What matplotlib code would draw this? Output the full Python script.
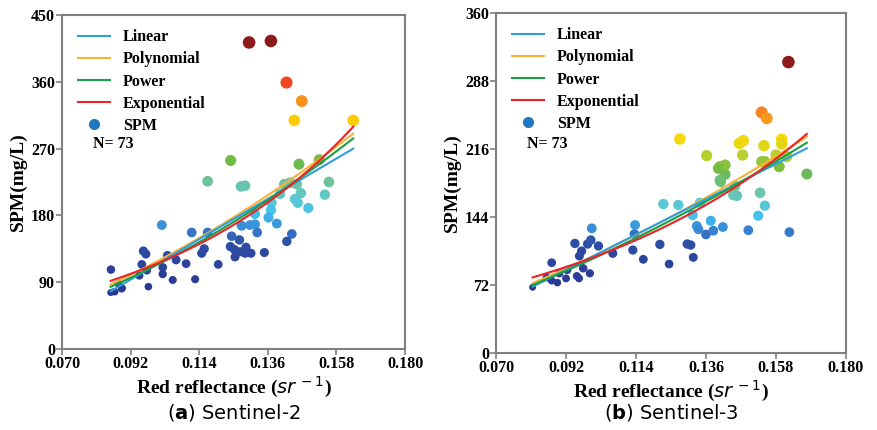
import numpy as np
import matplotlib
matplotlib.use('Agg')
import matplotlib.pyplot as plt
from matplotlib.colors import LinearSegmentedColormap
from matplotlib.lines import Line2D

# Sentinel-2 samples (red reflectance, SPM mg/L)
s2_x = [0.0857, 0.0856, 0.0865, 0.0881, 0.0891, 0.0977, 0.0948, 0.0956, 0.0961, 0.0969,
        0.0972, 0.1023, 0.1023, 0.1020, 0.1038, 0.1066, 0.1055, 0.1098, 0.1116, 0.1127,
        0.1148, 0.1156, 0.1167, 0.1201, 0.1244, 0.1269, 0.1253, 0.1255, 0.1271, 0.1290,
        0.1287, 0.1306, 0.1276, 0.1303, 0.1319, 0.1319, 0.1167, 0.1274, 0.1287, 0.1241,
        0.1460, 0.1525, 0.1413, 0.1431, 0.1453, 0.1556, 0.1543, 0.1466, 0.1447, 0.1456,
        0.1490, 0.1399, 0.1372, 0.1370, 0.1362, 0.1389, 0.1326, 0.1437, 0.1421, 0.1349,
        0.1300, 0.1370, 0.1420, 0.1469, 0.1445, 0.1634, 0.0870, 0.0893, 0.1240]
s2_y = [107, 76, 77, 88, 81, 84, 99, 114, 132, 128,
        106, 110, 101, 167, 126, 120, 93, 115, 157, 94,
        129, 135, 157, 114, 152, 147, 134, 124, 131, 137,
        129, 129, 166, 167, 168, 182, 226, 219, 220, 254,
        249, 255, 222, 224, 222, 225, 208, 210, 202, 197,
        190, 209, 197, 187, 177, 169, 157, 155, 145, 130,
        413, 415, 359, 334, 308, 308, 77, 82, 138]

# Sentinel-3 samples
s3_x = [0.0815, 0.0859, 0.0875, 0.0875, 0.0893, 0.0899, 0.0920, 0.0924, 0.0948, 0.0954,
        0.0961, 0.0962, 0.0969, 0.0974, 0.0995, 0.0988, 0.0998, 0.1001, 0.1022, 0.1067,
        0.1130, 0.1135, 0.1137, 0.1163, 0.1215, 0.1244, 0.1226, 0.1273, 0.1301, 0.1312,
        0.1320, 0.1318, 0.1375, 0.1331, 0.1336, 0.1360, 0.1383, 0.1413, 0.1493, 0.1622,
        0.1524, 0.1545, 0.1530, 0.1446, 0.1457, 0.1451, 0.1406, 0.1420, 0.1404, 0.1420,
        0.1399, 0.1362, 0.1475, 0.1535, 0.1545, 0.1580, 0.1590, 0.1614, 0.1677, 0.1278,
        0.1465, 0.1477, 0.1542, 0.1598, 0.1598, 0.1535, 0.1551, 0.1619, 0.1341, 0.1404]
s3_y = [69.5, 80, 95.6, 76.6, 74.5, 84.4, 79, 88, 116, 81.5,
        79, 102.7, 108, 89.7, 84.4, 115.4, 119.6, 132, 113.3, 105.5,
        109, 126, 135.5, 99.2, 115, 94.2, 157.8, 156.7, 115.4, 114.3,
        101.3, 146, 140, 134.5, 131, 125.5, 129.5, 133.4, 130, 128,
        145.4, 156, 169.7, 167.3, 166.5, 177, 181.4, 189.2, 197.3, 199,
        195.5, 209, 209.6, 202.6, 202.6, 209.6, 197.3, 208, 189.5, 226.6,
        222, 224.8, 219.5, 226.3, 221.3, 254.8, 248.5, 308, 159, 183]

# fitted models
s2_linear = [2471, -133.8]          # a*x + b
s2_poly = [8303, 545.6, -20.6]      # a*x^2 + b*x + c
s2_power = [8660, 1.887]            # c*x^d
s2_expo = [25.03, 15.19]            # c*exp(k*x)

s3_linear = [1699.5, -68.3]
s3_poly = [4307, 724.7, -13.7]
s3_power = [3642, 1.565]
s3_expo = [29.24, 12.35]

cmap = LinearSegmentedColormap.from_list('spm', [
    (0.0, '#2a3791'), (0.2, '#2e4ea6'), (0.26, '#3a8ad6'), (0.31, '#3fbfee'),
    (0.37, '#5cc8d4'), (0.43, '#6cc4a8'), (0.52, '#6cb944'), (0.60, '#c8d42a'),
    (0.67, '#ffd700'), (0.76, '#f7941d'), (0.84, '#ef4123'), (1.0, '#8b1a1a')])

serif = 'Liberation Serif'
gray = '#808080'


def draw_panel(ax, xs, ys, lin, poly, pw, ex, ymax, ystep, caption_tag, caption):
    xs = np.array(xs)
    ys = np.array(ys)
    frac = (ys - ys.min()) / (ys.max() - ys.min())
    sizes = 24 + 58 * frac ** 0.6
    ax.scatter(xs, ys, c=ys, cmap=cmap, s=sizes, edgecolors='none', zorder=2)

    xx = np.linspace(xs.min(), xs.max(), 200)
    ax.plot(xx, np.polyval(poly, xx), color='#f9b233', lw=1.5, zorder=3)
    ax.plot(xx, np.polyval(lin, xx), color='#2d9fe0', lw=1.5, zorder=3)
    ax.plot(xx, pw[0] * xx ** pw[1], color='#1a9e46', lw=1.5, zorder=4)
    ax.plot(xx, ex[0] * np.exp(ex[1] * xx), color='#ec2227', lw=1.5, zorder=5)

    ax.set_xlim(0.07, 0.18)
    ax.set_ylim(0, ymax)
    ax.set_xticks(np.linspace(0.07, 0.18, 6))
    ax.set_xticklabels(['0.070', '0.092', '0.114', '0.136', '0.158', '0.180'])
    ax.set_yticks(np.arange(0, ymax + 1, ystep))
    for sp in ax.spines.values():
        sp.set_color(gray)
        sp.set_linewidth(1.5)
    ax.tick_params(direction='out', length=4, width=1.2, color=gray, pad=1)
    for lab in ax.get_xticklabels() + ax.get_yticklabels():
        lab.set_fontfamily(serif)
        lab.set_fontweight('bold')
        lab.set_fontsize(11.5)

    ax.set_ylabel('SPM(mg/L)', fontfamily=serif, fontweight='bold', fontsize=14, labelpad=3)
    ax.set_xlabel(r'Red reflectance ($sr^{\,-1}$)', fontfamily=serif, fontweight='bold',
                  fontsize=14, labelpad=2)

    handles = [Line2D([], [], color='#2d9fe0', lw=1.5),
               Line2D([], [], color='#f9b233', lw=1.5),
               Line2D([], [], color='#1a9e46', lw=1.5),
               Line2D([], [], color='#ec2227', lw=1.5),
               Line2D([], [], ls='none', marker='o', ms=7, color='#1f78c1')]
    ax.legend(handles, ['Linear', 'Polynomial', 'Power', 'Exponential', 'SPM'],
              loc='upper left', bbox_to_anchor=(0.005, 1.0), frameon=False,
              prop={'family': serif, 'weight': 'bold', 'size': 11.5},
              handlelength=2.0, handletextpad=0.8, labelspacing=0.38)
    ax.text(0.09, 0.615, 'N= 73', transform=ax.transAxes, fontfamily=serif,
            fontweight='bold', fontsize=11.5, va='center')

    pos = ax.get_position()
    fig.text(pos.x0 + pos.width / 2, 0.04, '(' + r'$\mathbf{' + caption_tag + '}$' + ') ' + caption,
             ha='center', va='center', fontsize=14, family='DejaVu Sans')


fig = plt.figure(figsize=(8.78, 4.30), dpi=100)
ax1 = fig.add_axes([62 / 878, 1 - 349 / 430, 343 / 878, 334 / 430])
ax2 = fig.add_axes([496 / 878, 1 - 353 / 430, 350 / 878, 340 / 430])

draw_panel(ax1, s2_x, s2_y, s2_linear, s2_poly, s2_power, s2_expo, 450, 90, 'a', 'Sentinel-2')
draw_panel(ax2, s3_x, s3_y, s3_linear, s3_poly, s3_power, s3_expo, 360, 72, 'b', 'Sentinel-3')

fig.savefig('out.png', dpi=100)
